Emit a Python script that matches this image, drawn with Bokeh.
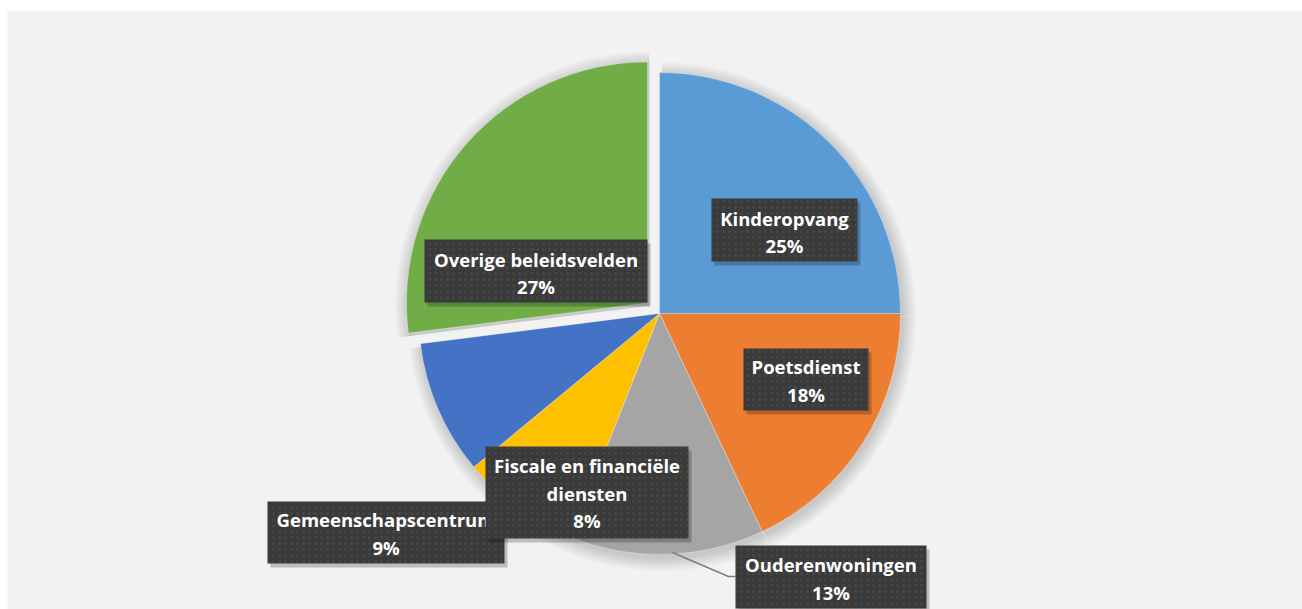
import numpy as np
from bokeh.plotting import figure
from bokeh.models import Range1d, ColumnDataSource
from bokeh.core.properties import value
from bokeh.embed import file_html
from bokeh.resources import INLINE

# ---- data ----
categories = ["Kinderopvang", "Poetsdienst", "Ouderenwoningen",
              "Fiscale en financiële\ndiensten", "Gemeenschapscentrum",
              "Overige beleidsvelden"]
values = [25, 18, 13, 8, 9, 27]
colors = ["#5b9bd5", "#ed7d31", "#a5a5a5", "#ffc000", "#4472c4", "#70ad47"]
explode = [0, 0, 0, 0, 0, 16]

# ---- layout (page pixel coordinates) ----
W, H, TOP, LEFT = 1302, 609, 10, 7
def X(xp): return xp - LEFT
def Y(yp): return H - yp

CX, CY, R = X(659), Y(313), 241
# label boxes: (cx, cy, w, h, text_cy) in page px
boxes = [
    (784, 229.5, 146, 63, 231.5),
    (805.5, 379, 125, 62, 380),
    (830.5, 576.5, 191, 63, 578),
    (586.5, 492, 203, 92, 492.5),
    (385.5, 532, 237, 62, 533),
    (535.5, 270.5, 223, 63, 272.5),
]
draw_order = [0, 1, 2, 5, 4, 3]

p = figure(width=W, height=H, x_range=Range1d(0, W - LEFT), y_range=Range1d(0, H - TOP),
           output_backend="svg", toolbar_location=None, min_border=0,
           min_border_top=TOP, min_border_left=LEFT, x_axis_type=None, y_axis_type=None)
p.grid.visible = False
p.outline_line_color = None
p.background_fill_color = "#f2f2f2"
p.border_fill_color = "white"

vals = np.array(values, dtype=float)
frac = vals / vals.sum()
f1 = np.cumsum(frac)
f0 = f1 - frac
start = np.pi / 2 - 2 * np.pi * f1
end = np.pi / 2 - 2 * np.pi * f0
mid = (start + end) / 2
ex = np.array(explode, dtype=float)
cxs = CX + ex * np.cos(mid)
cys = CY + ex * np.sin(mid)

# soft shadow
for k in range(1, 15):
    p.wedge(x=cxs + 2, y=cys - 3, radius=R + k, start_angle=start, end_angle=end,
            fill_color="black", fill_alpha=0.011, line_color=None)

src = ColumnDataSource(dict(x=cxs, y=cys, s=start, e=end, c=colors))
p.wedge(x="x", y="y", radius=R, start_angle="s", end_angle="e", fill_color="c",
        line_color="white", line_width=0.6, line_alpha=0.5, source=src)

# leader line for Ouderenwoningen
p.line(x=[X(672), X(728), X(735)], y=[Y(552), Y(576), Y(576)],
       line_color="#7f7f7f", line_width=1.5)

for i in draw_order:
    bx, by, bw, bh, ty = boxes[i]
    p.rect(x=[X(bx) + 3], y=[Y(by) - 4], width=bw, height=bh,
           fill_color="black", fill_alpha=0.22, line_color=None)
    p.rect(x=[X(bx)], y=[Y(by)], width=bw, height=bh, fill_color="#3a3a3a",
           line_color=None, hatch_pattern="dot", hatch_color="#5c5c5c",
           hatch_scale=6, hatch_weight=1, hatch_alpha=0.35)
    p.text(x=[X(bx)], y=[Y(ty)], text=[f"{categories[i]}\n{values[i]}%"],
           text_font=value("Open Sans"), text_font_style="bold", text_font_size="18.5px",
           text_color="white", text_align="center", text_baseline="middle",
           text_line_height=1.1)

open("out.html", "w").write(file_html(p, INLINE))
